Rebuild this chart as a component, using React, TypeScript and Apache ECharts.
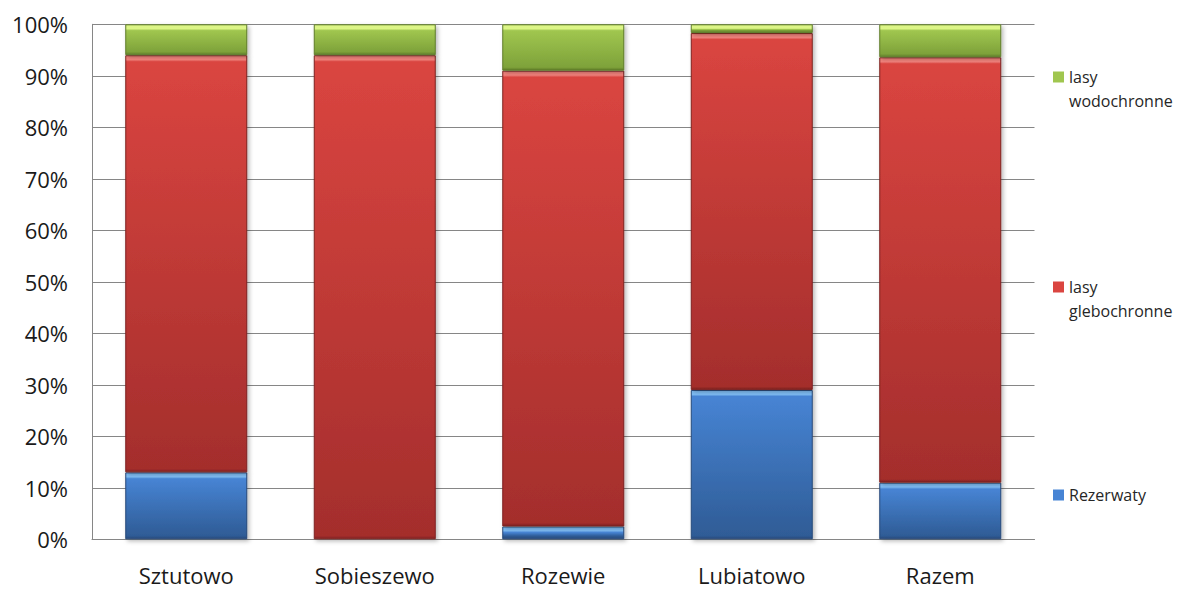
import React, { useEffect, useRef } from "react";
import * as echarts from "echarts";

// Udział powierzchni (%) według kategorii ochrony
const categories = ["Sztutowo", "Sobieszewo", "Rozewie", "Lubiatowo", "Razem"];
const rezerwaty = [13, 0, 2.5, 29, 11];
const lasyGlebochronne = [81, 94, 88.5, 69.3, 82.6];
const lasyWodochronne = [6, 6, 9, 1.7, 6.4];
const yTicks = [0, 10, 20, 30, 40, 50, 60, 70, 80, 90, 100];

const FONT = "'Open Sans', 'Noto Sans', sans-serif";
const PX_PER_UNIT = 5.15; // plot height / 100

type Palette = { hi: string; top: string; bottom: string; edge: string };

const palettes: Record<string, Palette> = {
  blue: { hi: "#7fbdf5", top: "#4784d4", bottom: "#2f5c96", edge: "#27497a" },
  red: { hi: "#f3837d", top: "#da4540", bottom: "#a42e2c", edge: "#7e2220" },
  green: { hi: "#dcf586", top: "#a0c64f", bottom: "#7ea23a", edge: "#5f7c2a" },
};

// bevelled segment: bright top rim, then a vertical shade to the bottom
function segmentStyle(value: number, p: Palette) {
  const h = Math.max(value * PX_PER_UNIT, 1);
  const rim = Math.min(4 / h, 0.45);
  const edge = Math.min(rim + 2 / h, 0.6);
  return {
    color: new echarts.graphic.LinearGradient(0, 0, 0, 1, [
      { offset: 0, color: p.hi },
      { offset: rim, color: p.hi },
      { offset: edge, color: p.top },
      { offset: Math.max(edge, 1 - Math.min(3 / h, 0.3)), color: p.bottom },
      { offset: 1, color: p.edge },
    ]),
    borderColor: p.edge,
    borderWidth: 1,
    shadowColor: "rgba(0,0,0,0.28)",
    shadowBlur: 4,
    shadowOffsetX: 2,
    shadowOffsetY: 2,
  };
}

function makeSeries(name: string, values: number[], p: Palette) {
  return {
    name,
    type: "bar",
    stack: "total",
    barWidth: 122,
    itemStyle: { color: p.top },
    data: values.map((v) => ({ value: v, itemStyle: segmentStyle(v, p) })),
  };
}

// two-word names wrap; a blank first line keeps "lasy" level with the swatch
function legendBlock(name: string, top: number, twoLines: boolean) {
  return {
    data: [name],
    left: 1053,
    top,
    padding: 0,
    itemWidth: 11,
    itemHeight: 11,
    itemGap: 4,
    icon: "rect",
    formatter: (n: string) => (twoLines ? " \n" + n.replace(" ", "\n") : n),
    textStyle: {
      fontFamily: FONT,
      fontSize: 16,
      color: "#262626",
      lineHeight: 24,
    },
  };
}

export default function App() {
  const ref = useRef<HTMLDivElement>(null);

  useEffect(() => {
    if (!ref.current) return;
    const chart = echarts.init(ref.current, undefined, { renderer: "svg" });
    chart.setOption({
      animation: false,
      backgroundColor: "#ffffff",
      grid: { left: 92, right: 144.5, top: 24.3, bottom: 50.7 },
      legend: [
        legendBlock("lasy wodochronne", 41, true),
        legendBlock("lasy glebochronne", 251, true),
        legendBlock("Rezerwaty", 483, false),
      ],
      xAxis: {
        type: "category",
        data: categories,
        axisLine: { lineStyle: { color: "#868686", width: 1 } },
        axisTick: { show: false },
        axisLabel: {
          fontFamily: FONT,
          fontSize: 22,
          lineHeight: 22,
          color: "#1a1a1a",
          margin: 25,
        },
      },
      yAxis: {
        type: "value",
        min: 0,
        max: 100,
        interval: 10,
        axisLine: { show: true, lineStyle: { color: "#868686", width: 1 } },
        axisTick: { show: false },
        splitLine: { lineStyle: { color: "#868686", width: 1 } },
        axisLabel: {
          fontFamily: FONT,
          fontSize: 22,
          color: "#1a1a1a",
          margin: 24,
          formatter: (v: number) => (yTicks.includes(v) ? `${v}%` : ""),
        },
      },
      series: [
        makeSeries("Rezerwaty", rezerwaty, palettes.blue),
        makeSeries("lasy glebochronne", lasyGlebochronne, palettes.red),
        makeSeries("lasy wodochronne", lasyWodochronne, palettes.green),
      ],
    });
    return () => chart.dispose();
  }, []);

  return (
    <div
      ref={ref}
      style={{ width: 1179, height: 590, position: "absolute", left: 0, top: 0 }}
    />
  );
}
